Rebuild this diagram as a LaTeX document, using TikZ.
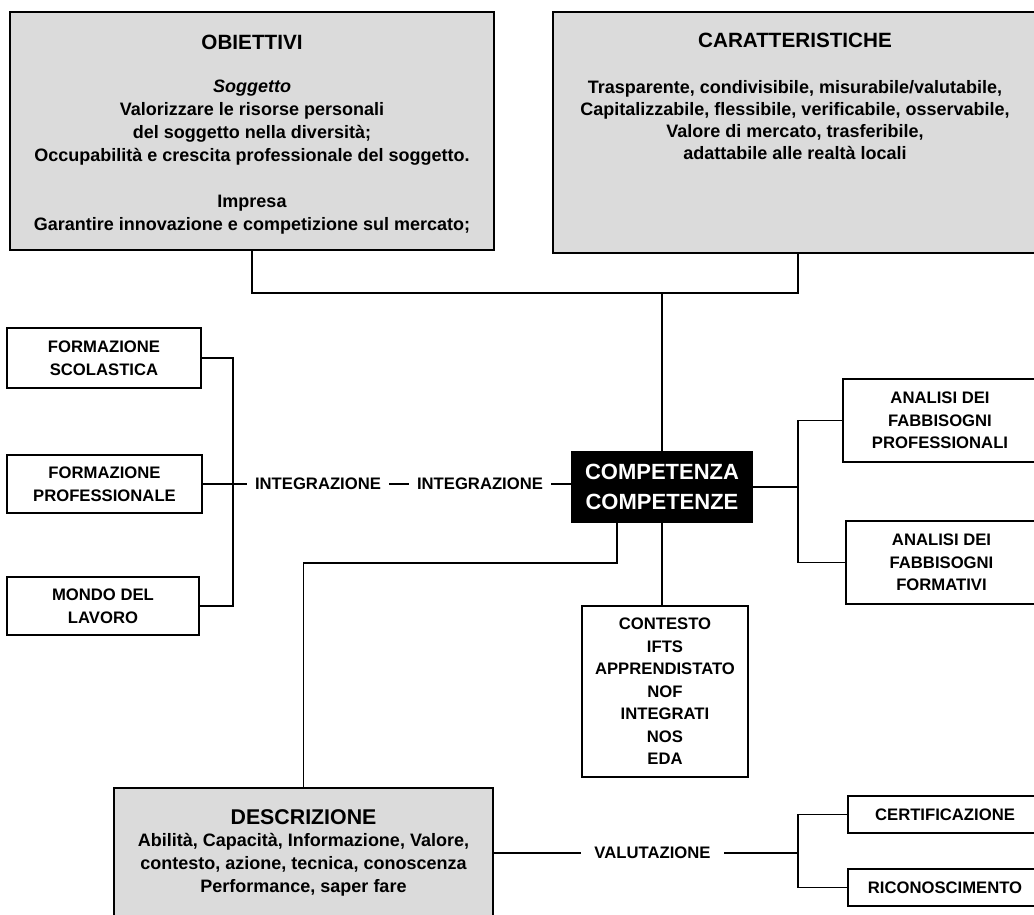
\documentclass[tikz,border=0pt]{standalone}
\usepackage{fontspec}
\setmainfont{Liberation Sans}
\usetikzlibrary{calc}
\newcommand\myfs[2]{\fontsize{#1}{#2}\selectfont}
\begin{document}
\begin{tikzpicture}[x=0.75pt,y=-0.75pt,
  sz/.style 2 args={minimum width=#1*0.75pt,minimum height=#2*0.75pt},
  greybox/.style={draw=black,line width=1.6pt,fill=black!14,inner sep=0pt},
  wbox/.style={draw=black,line width=1.4pt,fill=white,inner sep=0pt,align=center,font=\bfseries\myfs{12.5}{16.9}},
  blk/.style={draw=black,line width=1.4pt,fill=black,text=white,inner sep=0pt,align=center,font=\bfseries\myfs{16.5}{22.5}},
  ttl/.style={inner sep=0pt,align=center,font=\bfseries\myfs{15.5}{18}},
  body/.style={inner sep=0pt,align=center,font=\bfseries\myfs{13.5}{17.25}},
  lbl/.style={inner ysep=2pt,inner xsep=6pt,font=\bfseries\myfs{12.5}{15}},
  con/.style={line width=1.4pt}]
\useasboundingbox (0,0) rectangle (1034,914);
\clip (0,0) rectangle (1034,914);
\fill[white] (0,0) rectangle (1034,914);

% top boxes
\node[greybox,sz={484}{238}] (obi) at (252,131) {};
\node[greybox,sz={490}{241}] (car) at (798,132.5) {};
\node[ttl] (obit) at (252,42) {OBIETTIVI};
\node[body] (obib) at (252,157) {\textit{Soggetto}\\Valorizzare le risorse personali\\del soggetto nella diversità;\\Occupabilità e crescita professionale del soggetto.\\[17.25pt]Impresa\\Garantire innovazione e competizione sul mercato;};
\node[ttl] (cart) at (795,40) {CARATTERISTICHE};
\node[body,font=\bfseries\myfs{13.5}{16.3}] (carb) at (795,120) {Trasparente, condivisibile, misurabile/valutabile,\\Capitalizzabile, flessibile, verificabile, osservabile,\\Valore di mercato, trasferibile,\\adattabile alle realtà locali};

% left boxes
\node[wbox,sz={194}{60}] (scol) at (104,358) {FORMAZIONE\\SCOLASTICA};
\node[wbox,sz={195}{58}] (prof) at (104.5,484) {FORMAZIONE\\PROFESSIONALE};
\node[wbox,sz={192}{58}] (mondo) at (103,606) {MONDO DEL\\LAVORO};

% centre
\node[blk,sz={180}{70}] (comp) at (662,487) {COMPETENZA\\COMPETENZE};
\node[lbl] (int1) at (318,484) {INTEGRAZIONE};
\node[lbl] (int2) at (480,484) {INTEGRAZIONE};

% right boxes
\node[wbox,sz={194}{83}] (apro) at (940,420.5) {ANALISI DEI\\FABBISOGNI\\PROFESSIONALI};
\node[wbox,sz={191}{83}] (afor) at (941.5,562.5) {ANALISI DEI\\FABBISOGNI\\FORMATIVI};

% contents
\node[wbox,sz={166}{171}] (cont) at (665,691.5) {CONTESTO\\IFTS\\APPRENDISTATO\\NOF\\INTEGRATI\\NOS\\EDA};

% bottom
\node[greybox,sz={379}{140}] (desc) at (303.5,858) {};
\node[ttl,font=\bfseries\myfs{16}{18}] (desct) at (303.5,817) {DESCRIZIONE};
\node[body] (descb) at (303.5,865) {Abilità, Capacità, Informazione, Valore,\\contesto, azione, tecnica, conoscenza\\Performance, saper fare};
\node[lbl,inner xsep=10pt] (val) at (652.5,853) {VALUTAZIONE};
\node[wbox,sz={194}{37}] (cert) at (945,814.5) {CERTIFICAZIONE};
\node[wbox,sz={194}{37}] (rico) at (945,887.5) {RICONOSCIMENTO};

% connectors
\coordinate (jT) at (662,293);
\draw[con] (obi.south) |- (car.south |- jT) -- (car.south);
\draw[con] (comp.north) -- (comp.north |- jT);

\coordinate (jB) at (233,484);
\draw[con] (scol.east) -| (jB) |- (mondo.east);
\draw[con] (prof.east) -- (int1.west);
\draw[con] (int1) -- (int2);
\draw[con] (int2) -- (int2 -| comp.west);

\coordinate (jR) at (798,487);
\draw[con] (comp.east) -- (jR);
\draw[con] (apro.west) -| (jR) |- (afor.west);

\draw[con] (comp.south) -- (comp.south |- cont.north);

\coordinate (jL) at (617,563);
\draw[con] (jL |- comp.south) -- (jL) -| (desc.north);

\coordinate (jV) at (798,853);
\draw[con] (desc.east |- val) -- (val);
\draw[con] (val) -- (jV);
\draw[con] (cert.west) -| (jV) |- (rico.west);
\end{tikzpicture}
\end{document}
